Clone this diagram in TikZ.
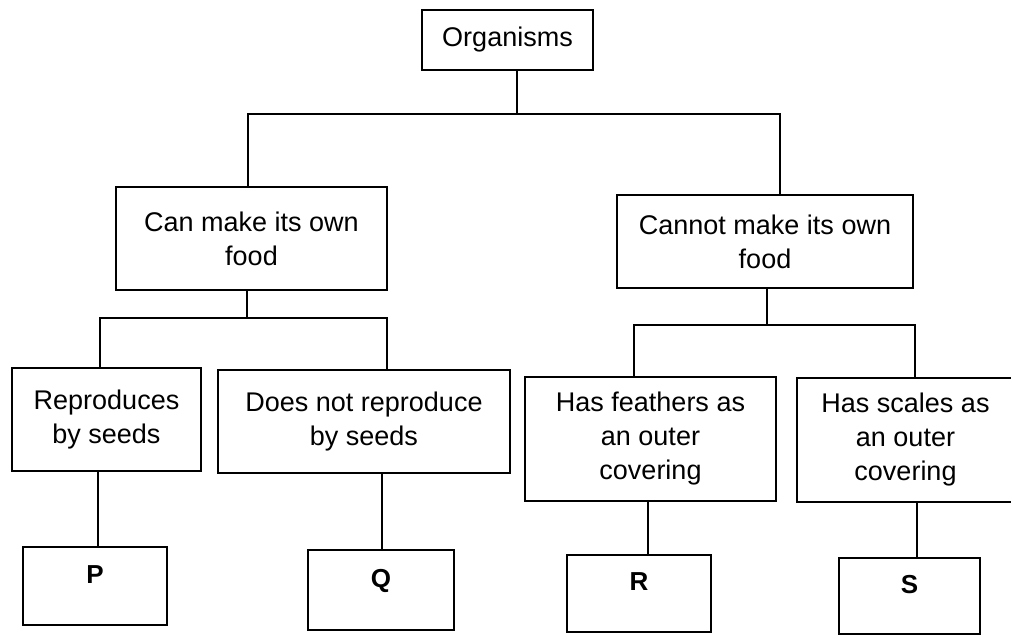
\documentclass[tikz,border=0pt]{standalone}
\usepackage{fontspec}
\setmainfont{Liberation Sans}
\begin{document}
\begin{tikzpicture}[x=1pt,y=-1pt,
  box/.style={draw,line width=1.8pt,rectangle,inner sep=0pt,align=center,
    font=\fontsize{27}{34}\selectfont},
  leaf/.style={draw,line width=1.8pt,rectangle,inner sep=0pt,
    font=\fontsize{26}{30}\selectfont\bfseries,text height=18pt,text depth=24pt},
  conn/.style={line width=1.8pt}]
\useasboundingbox (0,0) rectangle (1011,635);
\clip (0,0) rectangle (1011,635);
\fill[white] (0,0) rectangle (1011,635);
% boxes
\node[box,minimum width=171pt,minimum height=60pt] (org) at (507.5,40) {Organisms};
\node[box,minimum width=271pt,minimum height=103pt] (can) at (251.5,238.5) {Can make its own\\food};
\node[box,minimum width=296pt,minimum height=93pt] (cannot) at (765,241.5) {Cannot make its own\\food};
\node[box,minimum width=189pt,minimum height=103pt] (rep) at (106.5,419.5) {Reproduces\\by seeds};
\node[box,minimum width=292pt,minimum height=103pt] (dnr) at (364,421.5) {Does not reproduce\\by seeds};
\node[box,minimum width=251pt,minimum height=124pt] (fea) at (650.5,439) {Has feathers as\\an outer\\covering};
\node[box,minimum width=217pt,minimum height=124pt] (sca) at (905.5,440) {Has scales as\\an outer\\covering};
\node[leaf,minimum width=144pt,minimum height=78pt] (P) at (95,586) {P};
\node[leaf,minimum width=146pt,minimum height=80pt] (Q) at (381,590) {Q};
\node[leaf,minimum width=144pt,minimum height=77pt] (R) at (639,593.5) {R};
\node[leaf,minimum width=141pt,minimum height=76pt] (S) at (909.5,596) {S};
% junctions
\coordinate (j1) at (517,114);
\coordinate (j2) at (247,318);
\coordinate (j3) at (767,325);
% connectors
\draw[conn] ([xshift=9.5pt]org.south) -- (j1);
\draw[conn] ([xshift=-3.5pt]can.north) |- (j1) -| ([xshift=15pt]cannot.north);
\draw[conn] ([xshift=-4.5pt]can.south) -- (j2);
\draw[conn] ([xshift=-6.5pt]rep.north) |- (j2) -| ([xshift=23pt]dnr.north);
\draw[conn] ([xshift=2pt]cannot.south) -- (j3);
\draw[conn] ([xshift=-16.5pt]fea.north) |- (j3) -| ([xshift=9.5pt]sca.north);
\draw[conn] ([xshift=-8.5pt]rep.south) -- ([xshift=3pt]P.north);
\draw[conn] ([xshift=18pt]dnr.south) -- ([xshift=1pt]Q.north);
\draw[conn] ([xshift=-2.5pt]fea.south) -- ([xshift=9pt]R.north);
\draw[conn] ([xshift=11.5pt]sca.south) -- ([xshift=7.5pt]S.north);
\end{tikzpicture}
\end{document}
